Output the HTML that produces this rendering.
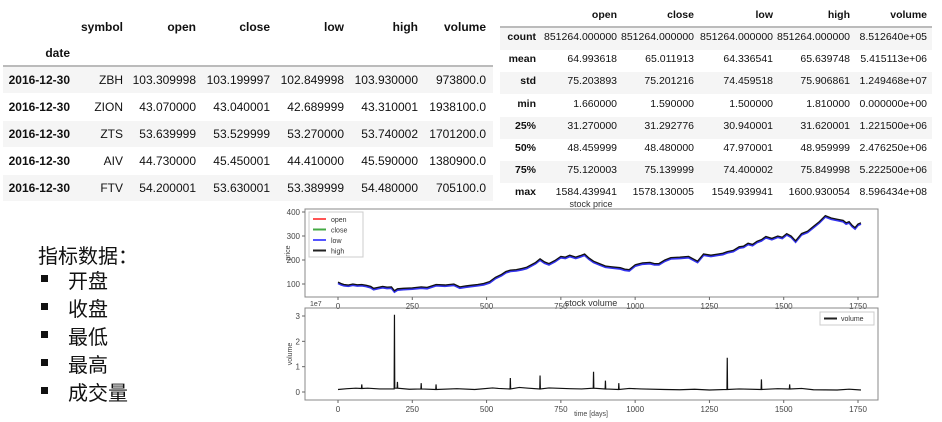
<!DOCTYPE html>
<html><head><meta charset="utf-8"><style>
body{margin:0;width:942px;height:422px;background:#fff;position:relative;overflow:hidden;font-family:"Liberation Sans",Arial,sans-serif;}
.t{position:absolute;font-size:12px;color:#111;}
#t2 .t{font-size:10.5px;}
.cell{position:absolute;text-align:right;white-space:nowrap;}
.b{font-weight:bold;}
.stripe{position:absolute;background:#f5f5f5;}
.zh{position:absolute;font-family:"Liberation Sans","Noto Sans CJK SC",sans-serif;font-size:20px;color:#111;}
.sq{position:absolute;width:7px;height:7px;background:#111;}
</style></head><body>
<div id="t1"></div>
<div id="t2"></div>
<div class="zh" style="left:38px;top:240px">指标数据：</div>
<div id="bl"></div>
<svg id="ch" width="942" height="422" style="position:absolute;left:0;top:0"></svg>
<script>
const priceDays=[0,10,20,35,50,65,80,95,110,120,135,150,165,180,190,200,220,250,280,300,330,360,390,410,430,450,470,490,510,530,550,565,580,600,620,635,650,665,680,695,710,730,750,765,780,800,815,830,845,860,880,900,920,950,965,980,1000,1025,1050,1065,1080,1100,1120,1150,1180,1195,1210,1230,1255,1280,1295,1310,1330,1350,1365,1380,1395,1410,1425,1440,1460,1480,1495,1510,1525,1540,1560,1580,1600,1620,1640,1660,1680,1700,1710,1720,1730,1740,1750,1760];
const priceVals=[108,102,98,96,100,97,98,95,90,82,86,90,87,88,72,80,82,84,88,86,98,96,100,88,92,95,98,102,110,128,140,152,158,160,165,170,180,190,205,192,185,198,215,212,220,212,218,225,208,195,185,175,172,168,162,160,180,188,190,185,185,200,210,212,215,205,195,225,220,225,228,235,240,255,258,270,265,278,285,298,290,300,295,310,300,280,310,320,340,360,385,375,370,365,355,360,345,335,350,355];
const volDays=[0,30,60,79,80,81,100,140,189,190,191,199,200,201,240,279,280,281,329,330,331,400,460,520,540,579,580,581,610,640,679,680,681,710,780,820,859,860,861,899,900,901,944,945,946,980,1020,1100,1150,1200,1250,1309,1310,1311,1350,1424,1425,1426,1480,1519,1520,1521,1560,1600,1680,1720,1760];
const volVals=[1.0e6,1.3e6,1.5e6,1.4e6,3e6,1.4e6,1.5e6,1.2e6,1.2e6,3.05e7,1.5e6,1.5e6,4e6,1.5e6,1.1e6,1.2e6,3.5e6,1.2e6,1e6,3e6,1e6,1.3e6,1.0e6,1.6e6,1.4e6,1.2e6,5.5e6,1.2e6,1.8e6,1.5e6,1.2e6,6.5e6,1.2e6,1.6e6,1.3e6,1.2e6,1.5e6,8e6,1.5e6,1.2e6,4.5e6,1.2e6,1e6,3.5e6,1e6,1.4e6,1.2e6,1.0e6,0.9e6,1.1e6,0.8e6,1e6,1.35e7,1e6,1.2e6,1e6,5e6,1e6,1.3e6,1.2e6,3e6,1.2e6,1.4e6,0.9e6,0.8e6,1.1e6,0.8e6];
const xTicks=[0,250,500,750,1000,1250,1500,1750];
const pTicks=[100,200,300,400];
const vTicks=[0,1,2,3];
const t1Cols=["symbol","open","close","low","high","volume"];
const t1Rows=[["2016-12-30","ZBH","103.309998","103.199997","102.849998","103.930000","973800.0"],["2016-12-30","ZION","43.070000","43.040001","42.689999","43.310001","1938100.0"],["2016-12-30","ZTS","53.639999","53.529999","53.270000","53.740002","1701200.0"],["2016-12-30","AIV","44.730000","45.450001","44.410000","45.590000","1380900.0"],["2016-12-30","FTV","54.200001","53.630001","53.389999","54.480000","705100.0"]];
const t2Cols=["open","close","low","high","volume"];
const t2Rows=[["count","851264.000000","851264.000000","851264.000000","851264.000000","8.512640e+05"],["mean","64.993618","65.011913","64.336541","65.639748","5.415113e+06"],["std","75.203893","75.201216","74.459518","75.906861","1.249468e+07"],["min","1.660000","1.590000","1.500000","1.810000","0.000000e+00"],["25%","31.270000","31.292776","30.940001","31.620001","1.221500e+06"],["50%","48.459999","48.480000","47.970001","48.959999","2.476250e+06"],["75%","75.120003","75.139999","74.400002","75.849998","5.222500e+06"],["max","1584.439941","1578.130005","1549.939941","1600.930054","8.596434e+08"]];

function cell(par,txt,right,top,bold){const d=document.createElement('div');d.className='t cell'+(bold?' b':'');d.style.right=(942-right)+'px';d.style.top=(top-7)+'px';d.textContent=txt;


par.appendChild(d);}
function box(par,cls,l,t,w,h,bg){const d=document.createElement('div');d.className=cls;d.style.left=l+'px';d.style.top=t+'px';d.style.width=w+'px';d.style.height=h+'px';if(bg)d.style.background=bg;


par.appendChild(d);}
const T1=document.getElementById('t1');
const c1=[123,196,270,344,418,486];
for(let i=0;i<5;i++){if(i%2==0)box(T1,'stripe',3,67+i*27,490,26);}
box(T1,'stripe',3,65,490,2,'#bbb');
t1Cols.forEach((c,i)=>cell(T1,c,c1[i],27,true));
cell(T1,'date',70,53,true);
t1Rows.forEach((r,j)=>{const y=80+j*27;cell(T1,r[0],70,y,true);for(let i=1;i<7;i++)cell(T1,r[i],c1[i-1],y,false);});
const T2=document.getElementById('t2');
const c2=[617,694,773,850,927];
for(let i=0;i<8;i++){if(i%2==0)box(T2,'stripe',500,28+i*22.2,432,22);}
box(T2,'stripe',500,26,432,2,'#bbb');
t2Cols.forEach((c,i)=>cell(T2,c,c2[i],16,true));
t2Rows.forEach((r,j)=>{const y=38+j*22.2;cell(T2,r[0],536,y,true);for(let i=1;i<6;i++)cell(T2,r[i],c2[i-1],y,false);});
const BL=document.getElementById('bl');
["开盘","收盘","最低","最高","成交量"].forEach((s,i)=>{const y=279+i*28;
const q=document.createElement('div');q.className='sq';q.style.left='41px';q.style.top=(y-4)+'px';


BL.appendChild(q);
const d=document.createElement('div');d.className='zh';d.style.left='68px';d.style.top=(y-14)+'px';d.textContent=s;


BL.appendChild(d);});
const NS='http://www.w3.org/2000/svg',S=document.getElementById('ch');
function el(tag,a,txt){const e=document.createElementNS(NS,tag);for(const k in a)e.setAttribute(k,a[k]);if(txt!=null)e.textContent=txt;S.appendChild(e);return e;}
const X=d=>338+d*(858-338)/1750;
const YP=v=>284-(v-100)*(284-212)/300;
const YV=v=>392-v*(392-316)/3e7;
const AL=305,AR=878;
function axes(top,bot,ticksY,fy,lab){
 const r=el('rect',{x:AL,y:top,width:AR-AL,height:bot-top,fill:'none',stroke:'#888','stroke-width':1});
 
 xTicks.forEach(t=>{el('line',{x1:X(t),x2:X(t),y1:bot,y2:bot+3,stroke:'#666'});
  const e=el('text',{x:X(t),y:bot+12,'font-size':8,'text-anchor':'middle',fill:'#444'},t);
  });
 ticksY.forEach((t,i)=>{const y=fy(t);el('line',{x1:AL-3,x2:AL,y1:y,y2:y,stroke:'#666'});
  const e=el('text',{x:AL-5,y:y+3,'font-size':8,'text-anchor':'end',fill:'#444'},lab[i]);
  });
}
axes(209,297,pTicks,YP,pTicks);
axes(308,400,vTicks.map(v=>v*1e7),YV,vTicks);
let e=el('text',{x:591,y:207,'font-size':9,'text-anchor':'middle',fill:'#333'},'stock price');
e=el('text',{x:591,y:306,'font-size':9,'text-anchor':'middle',fill:'#333'},'stock volume');
e=el('text',{x:591,y:416,'font-size':7,'text-anchor':'middle',fill:'#444'},'time [days]');
e=el('text',{x:310,y:306,'font-size':7,fill:'#444'},'1e7');
e=el('text',{x:290,y:253,'font-size':7,'text-anchor':'middle',fill:'#444',transform:'rotate(-90 290 253)'},'price');
e=el('text',{x:292,y:354,'font-size':7,'text-anchor':'middle',fill:'#444',transform:'rotate(-90 292 354)'},'volume');
const lp=dy=>priceDays.map((d,i)=>X(d)+','+(YP(priceVals[i])+dy)).join(' ');
e=el('polyline',{points:lp(1.2),fill:'none',stroke:'#3333ee','stroke-width':2});
e=el('polyline',{points:lp(0),fill:'none',stroke:'#111','stroke-width':1.3});
e=el('polyline',{points:volDays.map((d,i)=>X(d)+','+YV(volVals[i])).join(' '),fill:'none',stroke:'#111','stroke-width':1.2});
const lg=el('rect',{x:309,y:212,width:54,height:45,fill:'#fff',stroke:'#ccc'});
[['open','#f55'],['close','#4a4'],['low','#55f'],['high','#222']].forEach((s,i)=>{const y=219+i*10.5;el('line',{x1:313,x2:326,y1:y,y2:y,stroke:s[1],'stroke-width':2});
 const t=el('text',{x:331,y:y+3,'font-size':7,fill:'#333'},s[0]);});
const lv=el('rect',{x:820,y:312,width:54,height:13,fill:'#fff',stroke:'#ccc'});
el('line',{x1:824,x2:837,y1:318.5,y2:318.5,stroke:'#222','stroke-width':2});
e=el('text',{x:841,y:321,'font-size':7,fill:'#333'},'volume');
</script>
</body></html>
